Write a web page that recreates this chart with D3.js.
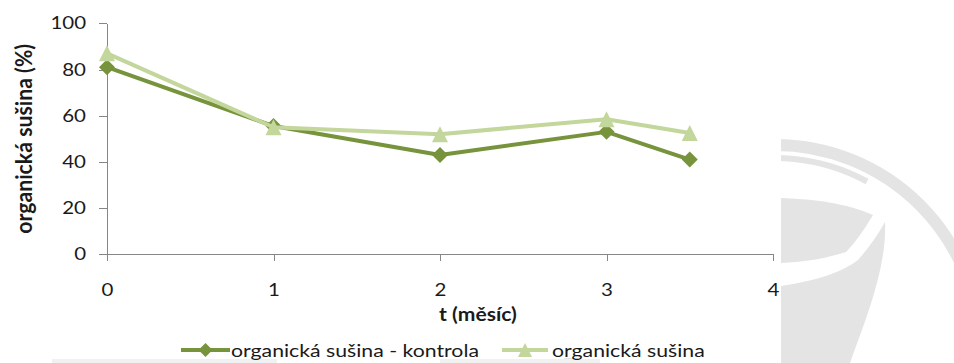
<!DOCTYPE html>
<html>
<head>
<meta charset="utf-8">
<script src="https://cdn.jsdelivr.net/npm/d3@7"></script>
<style>
  body { margin: 0; background: #fff; }
  svg { display: block; }
  text { font-family: Lato, "Open Sans", sans-serif; fill: #1a1a1a; }
</style>
</head>
<body>
<svg id="chart" width="954" height="363"></svg>
<script>
// Measurement months and organic dry-matter share (%)
const months = [0, 1, 2, 3, 3.5];
const kontrola = [81, 55.5, 43, 53, 41];
const susina = [87, 55, 52, 58.5, 52.5];
const xTicks = [0, 1, 2, 3, 4];
const yTicks = [0, 20, 40, 60, 80, 100];
const seriesNames = ["organická sušina - kontrola", "organická sušina"];
const xTitle = "t (měsíc)";
const yTitle = "organická sušina (%)";

const SX = 1.17;           // horizontal glyph stretch of the typeface
const FS = 17.5;
const darkGreen = "#77933C", lightGreen = "#C3D69B", axisGrey = "#868686";

const svg = d3.select("#chart");

// Background logo mark (grey ring with an "S"), partly covered by the chart area
const wm = svg.append("g").attr("fill", "#e4e4e4");
wm.append("circle").attr("cx", 775).attr("cy", 350).attr("r", 205)
  .attr("fill", "none").attr("stroke", "#e4e4e4").attr("stroke-width", 12);
wm.append("path").attr("transform", "translate(775,350)")
  .attr("d", d3.arc()({ innerRadius: 189, outerRadius: 195, startAngle: -0.3, endAngle: 0.5 }));
wm.append("path").attr("d", "M781,198 Q840,200 873,215 Q858,240 846,252 Q815,262 781,263 Z");
wm.append("path").attr("d", "M781,286 Q835,278 858,260 Q874,242 885,222 C887,268 866,318 850,363 L781,363 Z");
svg.append("rect").attr("x", 0).attr("y", 0).attr("width", 781).attr("height", 358).attr("fill", "#fff");
svg.append("rect").attr("x", 52).attr("y", 359).attr("width", 225).attr("height", 4).attr("fill", "#f1f1f1");
svg.append("rect").attr("x", 440).attr("y", 359).attr("width", 160).attr("height", 4).attr("fill", "#f1f1f1");

const x = d3.scaleLinear().domain([0, 4]).range([107, 773]);
const y = d3.scaleLinear().domain([0, 100]).range([254.3, 23.3]);

function stretch(sel, k = SX) {
  sel.attr("lengthAdjust", "spacingAndGlyphs")
     .attr("textLength", function () { return this.getComputedTextLength() * k; });
}

// Axes
const gy = svg.append("g").attr("transform", "translate(107,0)")
  .call(d3.axisLeft(y).tickValues(yTicks).tickSize(8).tickSizeOuter(0).tickPadding(13));
const gx = svg.append("g").attr("transform", "translate(0,254)")
  .call(d3.axisBottom(x).tickValues(xTicks).tickFormat(d3.format("d"))
    .tickSize(7).tickSizeOuter(0).tickPadding(23));
[gx, gy].forEach(g => {
  g.selectAll("path, line").attr("stroke", axisGrey).attr("shape-rendering", "crispEdges");
  g.selectAll("text").attr("font-size", FS).attr("font-family", "Lato, sans-serif").attr("fill", "#1a1a1a");
  g.selectAll("text").call(stretch);
});

// Axis titles
svg.append("text").attr("x", 478).attr("y", 321).attr("text-anchor", "middle")
  .attr("font-size", 18).attr("font-weight", "bold").text(xTitle).call(stretch);
svg.append("text")
  .attr("transform", `translate(32,${(y(0) + y(100)) / 2}) rotate(-90) scale(1,1.1)`)
  .attr("text-anchor", "middle").attr("font-size", 20).attr("font-weight", "bold")
  .attr("textLength", 190).attr("lengthAdjust", "spacingAndGlyphs").text(yTitle);

// Marker shapes
const diamond = { draw(ctx, size) { const r = Math.sqrt(size) / 2;
  ctx.moveTo(0, -r); ctx.lineTo(r, 0); ctx.lineTo(0, r); ctx.lineTo(-r, 0); ctx.closePath(); } };
const triangle = { draw(ctx, size) { const s = Math.sqrt(size) / 2;
  ctx.moveTo(0, -s); ctx.lineTo(s, s); ctx.lineTo(-s, s); ctx.closePath(); } };

const series = [
  { name: seriesNames[0], values: kontrola, color: darkGreen, shape: diamond },
  { name: seriesNames[1], values: susina, color: lightGreen, shape: triangle }
];

const line = d3.line().x(d => x(d[0])).y(d => y(d[1]));
series.forEach(s => {
  const pts = months.map((m, i) => [m, s.values[i]]);
  const g = svg.append("g");
  g.append("path").attr("d", line(pts)).attr("fill", "none").attr("stroke", s.color)
    .attr("stroke-width", 4).attr("stroke-linejoin", "round").attr("stroke-linecap", "round");
  g.selectAll("path.m").data(pts).join("path").attr("class", "m")
    .attr("transform", d => `translate(${x(d[0])},${y(d[1])})`)
    .attr("d", d3.symbol(s.shape, 256)).attr("fill", s.color);
});

// Legend
const legendItems = [{ x0: 181, x1: 230, tx: 231 }, { x0: 502, x1: 548, tx: 552 }];
series.forEach((s, i) => {
  const L = legendItems[i];
  const g = svg.append("g");
  g.append("line").attr("x1", L.x0).attr("x2", L.x1).attr("y1", 350).attr("y2", 350)
    .attr("stroke", s.color).attr("stroke-width", 4);
  g.append("path").attr("transform", `translate(${(L.x0 + L.x1) / 2},350)`)
    .attr("d", d3.symbol(s.shape, 196)).attr("fill", s.color);
  g.append("text").attr("x", L.tx).attr("y", 357).attr("font-size", 18).text(s.name).call(stretch, 1.18);
});
</script>
</body>
</html>
